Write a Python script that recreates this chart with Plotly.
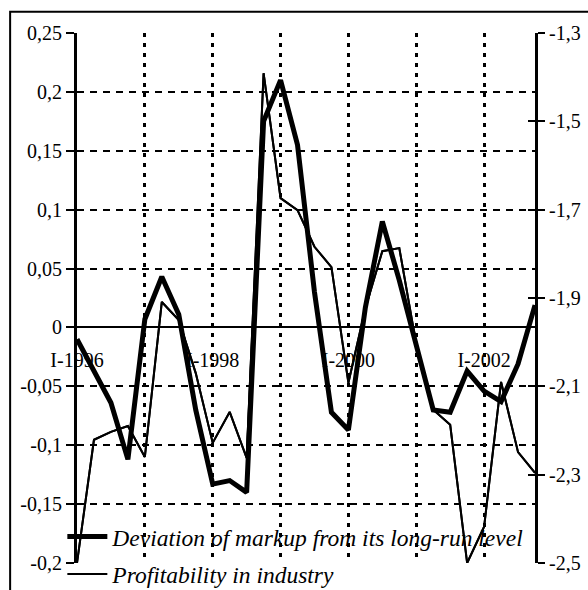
import plotly.graph_objects as go

quarters = [f"{q}-{y}" for y in range(1996, 2003) for q in ["I", "II", "III", "IV"]]

markup_dev = [-0.010, -0.038, -0.064, -0.112, 0.007, 0.043, 0.011, -0.070,
              -0.133, -0.130, -0.140, 0.175, 0.210, 0.155, 0.030, -0.072,
              -0.087, 0.017, 0.090, 0.040, -0.017, -0.070, -0.072, -0.037,
              -0.054, -0.063, -0.031, 0.019]

profitability = [-2.500, -2.221, -2.203, -2.190, -2.260, -1.909, -1.950, -2.070,
                 -2.228, -2.158, -2.262, -1.391, -1.674, -1.701, -1.784, -1.830,
                 -2.092, -1.923, -1.794, -1.787, -2.005, -2.153, -2.187, -2.500,
                 -2.418, -2.090, -2.249, -2.296]

grid_ticks = quarters[::4]
grid_text = [q if i % 2 == 0 else "" for i, q in enumerate(grid_ticks)]

left_ticks = [0.25, 0.2, 0.15, 0.1, 0.05, 0, -0.05, -0.1, -0.15, -0.2]
left_text = ["0,25", "0,2", "0,15", "0,1", "0,05", "0", "-0,05", "-0,1", "-0,15", "-0,2"]
right_ticks = [-1.3, -1.5, -1.7, -1.9, -2.1, -2.3, -2.5]
right_text = ["-1,3", "-1,5", "-1,7", "-1,9", "-2,1", "-2,3", "-2,5"]

FONT = "Liberation Serif"

fig = go.Figure()
fig.add_trace(go.Scatter(
    x=quarters, y=markup_dev, mode="lines", name="Deviation of markup from its long-run level",
    line=dict(color="black", width=5), yaxis="y", legendgroup="a"))
fig.add_trace(go.Scatter(
    x=quarters, y=profitability, mode="lines", name="Profitability in industry",
    line=dict(color="black", width=2), yaxis="y2", legendgroup="b"))
# trace on a twin right axis that carries the inner half of the cross ticks
fig.add_trace(go.Scatter(x=quarters, y=profitability, mode="lines", yaxis="y3",
                         line=dict(width=2, color="black"), showlegend=False,
                         hoverinfo="skip"))

fig.update_layout(
    width=588, height=590,
    margin=dict(l=77, r=53, t=33, b=27, autoexpand=False),
    paper_bgcolor="white", plot_bgcolor="white",
    font=dict(family=FONT, size=20, color="black"),
    showlegend=True,
    legend=dict(
        x=-0.032, y=0.091, xanchor="left", yanchor="top",
        bgcolor="rgba(0,0,0,0)", borderwidth=0,
        font=dict(family=FONT, size=23.5, style="italic", color="black"),
        tracegroupgap=4, itemwidth=40,
    ),
    xaxis=dict(
        type="category", categoryorder="array", categoryarray=quarters,
        range=[0, 27], tickmode="array", tickvals=grid_ticks, ticktext=grid_text,
        showgrid=True, gridcolor="black", gridwidth=2.5, griddash="4px,6px",
        showline=False, zeroline=False,
        ticks="outside", ticklen=14, tickcolor="rgba(0,0,0,0)",
        anchor="free", position=0.4434, tickangle=0,
        tickfont=dict(family=FONT, size=20),
    ),
    yaxis=dict(
        range=[-0.2, 0.25], tickmode="array", tickvals=left_ticks, ticktext=left_text,
        showgrid=True, gridcolor="black", gridwidth=2, griddash="7px,6px",
        zeroline=True, zerolinecolor="black", zerolinewidth=1.5,
        showline=True, linecolor="black", linewidth=3,
        ticks="outside", ticklen=8, tickwidth=2, tickcolor="black",
        tickfont=dict(family=FONT, size=20),
    ),
    yaxis2=dict(
        range=[-2.5, -1.3], overlaying="y", side="right", anchor="x",
        tickmode="array", tickvals=right_ticks, ticktext=right_text,
        showgrid=False, zeroline=False,
        showline=True, linecolor="black", linewidth=3,
        ticks="outside", ticklen=7, tickwidth=2, tickcolor="black",
        tickfont=dict(family=FONT, size=20),
    ),
    yaxis3=dict(
        range=[-2.5, -1.3], overlaying="y", side="right", anchor="x",
        tickmode="array", tickvals=right_ticks, ticktext=[""] * len(right_ticks),
        showgrid=False, zeroline=False, showline=True, linecolor="black", linewidth=3,
        ticks="inside", ticklen=7, tickwidth=2, tickcolor="black",
    ),
    shapes=[dict(type="rect", xref="paper", yref="paper",
                 x0=-0.146, x1=1.2, y0=-0.2, y1=1.04,
                 line=dict(color="black", width=2), fillcolor="rgba(0,0,0,0)", layer="below")],
)

fig.write_html("out.html")
